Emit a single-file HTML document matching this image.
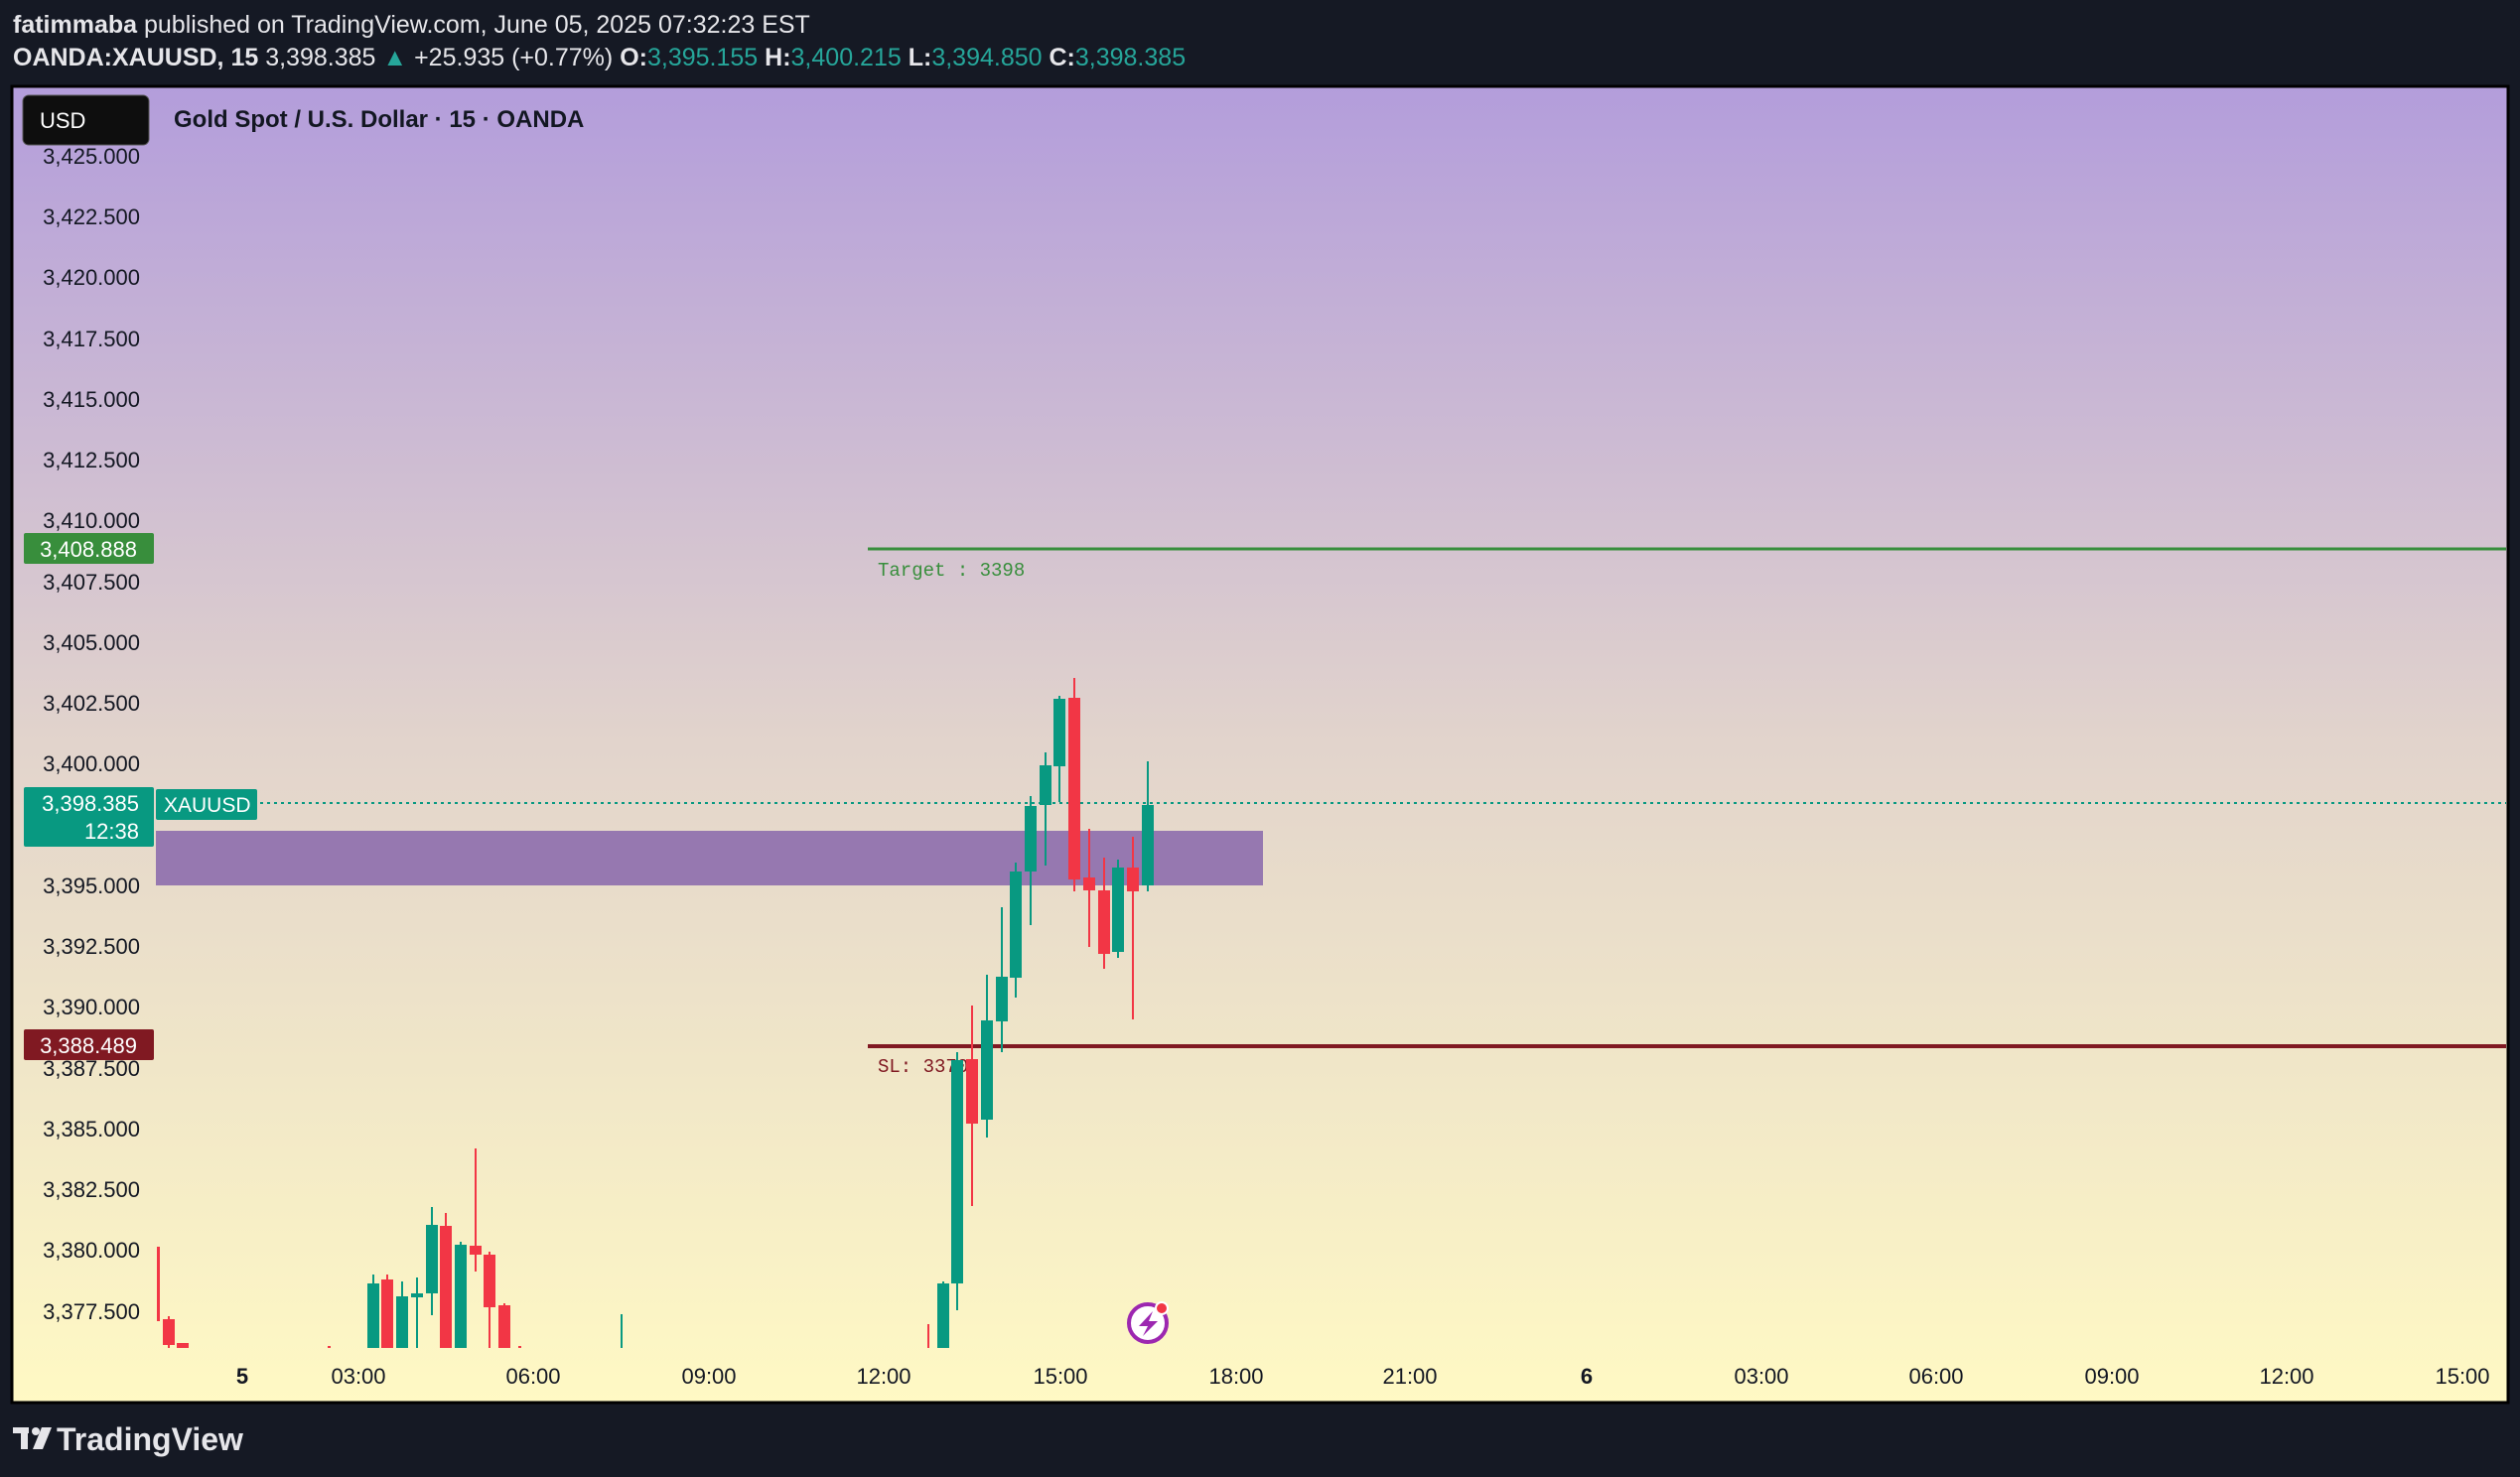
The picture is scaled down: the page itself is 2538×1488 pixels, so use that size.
<!DOCTYPE html>
<html><head><meta charset="utf-8"><style>
html,body{margin:0;padding:0;background:#151924;}
svg{display:block;font-family:"Liberation Sans",sans-serif;}
</style></head><body>
<svg width="2538" height="1488" viewBox="0 0 2538 1488" xmlns="http://www.w3.org/2000/svg">
<defs>
<linearGradient id="bg" x1="0" y1="0" x2="0" y2="1">
<stop offset="0" stop-color="#b39ddb"/>
<stop offset="0.5" stop-color="#e2d4cc"/>
<stop offset="1" stop-color="#fff9c4"/>
</linearGradient>
<clipPath id="plot"><rect x="14" y="88" width="2510" height="1270"/></clipPath>
</defs>
<rect width="2538" height="1488" fill="#151924"/>
<text x="13" y="33" font-size="25" fill="#e6e6ea"><tspan font-weight="bold">fatimmaba</tspan> published on TradingView.com, June 05, 2025 07:32:23 EST</text>
<text x="13" y="66" font-size="25" fill="#e6e6ea"><tspan font-weight="bold">OANDA:XAUUSD, 15</tspan> 3,398.385 <tspan fill="#26a69a">▲</tspan> +25.935 (+0.77%) <tspan font-weight="bold">O:</tspan><tspan fill="#26a69a">3,395.155</tspan> <tspan font-weight="bold">H:</tspan><tspan fill="#26a69a">3,400.215</tspan> <tspan font-weight="bold">L:</tspan><tspan fill="#26a69a">3,394.850</tspan> <tspan font-weight="bold">C:</tspan><tspan fill="#26a69a">3,398.385</tspan></text>
<rect x="12" y="87" width="2514" height="1326" fill="url(#bg)" stroke="#000" stroke-width="3"/>
<g font-size="22" fill="#131722" text-anchor="end">
<text x="141" y="165">3,425.000</text><text x="141" y="226">3,422.500</text><text x="141" y="287">3,420.000</text><text x="141" y="349">3,417.500</text><text x="141" y="410">3,415.000</text><text x="141" y="471">3,412.500</text><text x="141" y="532">3,410.000</text><text x="141" y="594">3,407.500</text><text x="141" y="655">3,405.000</text><text x="141" y="716">3,402.500</text><text x="141" y="777">3,400.000</text><text x="141" y="839">3,397.500</text><text x="141" y="900">3,395.000</text><text x="141" y="961">3,392.500</text><text x="141" y="1022">3,390.000</text><text x="141" y="1084">3,387.500</text><text x="141" y="1145">3,385.000</text><text x="141" y="1206">3,382.500</text><text x="141" y="1267">3,380.000</text><text x="141" y="1329">3,377.500</text>
</g>
<rect x="23" y="96" width="127" height="50" rx="6" fill="#0e0e0e" stroke="#555" stroke-width="1"/>
<text x="40" y="129" font-size="22" fill="#fff">USD</text>
<text x="175" y="128" font-size="24" font-weight="bold" fill="#131722">Gold Spot / U.S. Dollar · 15 · OANDA</text>
<g clip-path="url(#plot)">
<rect x="157" y="837" width="1115" height="55" fill="#9678b0"/>
<line x1="157" y1="809" x2="2525" y2="809" stroke="#089981" stroke-width="2" stroke-dasharray="3,4"/>
<line x1="874" y1="553" x2="2525" y2="553" stroke="#388e3c" stroke-width="3"/>
<text x="884" y="580" font-size="19" fill="#388e3c" font-family="Liberation Mono, monospace">Target : 3398</text>
<line x1="874" y1="1054" x2="2525" y2="1054" stroke="#801922" stroke-width="4"/>
<text x="884" y="1080" font-size="19" fill="#801922" font-family="Liberation Mono, monospace">SL: 3370</text>
<g fill="#f23645">
<rect x="158" y="1256" width="3" height="75"/>
<rect x="169" y="1326" width="2" height="32"/><rect x="164" y="1329" width="12" height="26"/>
<rect x="178" y="1353" width="12" height="5"/><rect x="330" y="1356" width="3" height="2"/>
<rect x="389" y="1284" width="2" height="74"/><rect x="384" y="1289" width="12" height="69"/>
<rect x="448" y="1222" width="2" height="136"/><rect x="443" y="1235" width="12" height="123"/>
<rect x="478" y="1157" width="2" height="124"/><rect x="473" y="1255" width="12" height="9"/>
<rect x="492" y="1261" width="2" height="97"/><rect x="487" y="1264" width="12" height="53"/>
<rect x="507" y="1313" width="2" height="45"/><rect x="502" y="1315" width="12" height="43"/>
<rect x="522" y="1356" width="3" height="2"/>
<rect x="934" y="1334" width="2" height="24"/>
<rect x="978" y="1013" width="2" height="202"/><rect x="973" y="1067" width="12" height="65"/>
<rect x="1081" y="683" width="2" height="215"/><rect x="1076" y="703" width="12" height="183"/>
<rect x="1096" y="835" width="2" height="119"/><rect x="1091" y="884" width="12" height="13"/>
<rect x="1111" y="864" width="2" height="112"/><rect x="1106" y="897" width="12" height="64"/>
<rect x="1140" y="843" width="2" height="184"/><rect x="1135" y="874" width="12" height="24"/>
</g>
<g fill="#089981">
<rect x="375" y="1284" width="2" height="74"/><rect x="370" y="1293" width="12" height="65"/>
<rect x="404" y="1291" width="2" height="67"/><rect x="399" y="1306" width="12" height="52"/>
<rect x="419" y="1287" width="2" height="71"/><rect x="414" y="1303" width="12" height="4"/>
<rect x="434" y="1216" width="2" height="109"/><rect x="429" y="1234" width="12" height="69"/>
<rect x="463" y="1251" width="2" height="107"/><rect x="458" y="1254" width="12" height="104"/>
<rect x="625" y="1324" width="2" height="34"/>
<rect x="949" y="1291" width="2" height="67"/><rect x="944" y="1293" width="12" height="65"/>
<rect x="963" y="1060" width="2" height="260"/><rect x="958" y="1068" width="12" height="225"/>
<rect x="993" y="982" width="2" height="164"/><rect x="988" y="1028" width="12" height="100"/>
<rect x="1008" y="914" width="2" height="146"/><rect x="1003" y="984" width="12" height="45"/>
<rect x="1022" y="869" width="2" height="136"/><rect x="1017" y="878" width="12" height="107"/>
<rect x="1037" y="802" width="2" height="130"/><rect x="1032" y="812" width="12" height="66"/>
<rect x="1052" y="758" width="2" height="114"/><rect x="1047" y="771" width="12" height="40"/>
<rect x="1066" y="701" width="2" height="107"/><rect x="1061" y="704" width="12" height="68"/>
<rect x="1125" y="866" width="2" height="99"/><rect x="1120" y="874" width="12" height="85"/>
<rect x="1155" y="767" width="2" height="131"/><rect x="1150" y="811" width="12" height="81"/>
</g>
</g>
<circle cx="1156" cy="1333" r="19" fill="#fff" stroke="#9c27b0" stroke-width="4"/>
<path d="M1161 1321 L1147 1336 L1156 1336 L1151 1346 L1166 1331 L1157 1331 Z" fill="#9c27b0"/>
<circle cx="1170" cy="1318" r="6" fill="#f23645" stroke="#fff" stroke-width="2"/>
<rect x="24" y="537" width="131" height="31" rx="2" fill="#388e3c"/>
<text x="89" y="561" font-size="22" fill="#fff" text-anchor="middle">3,408.888</text>
<rect x="24" y="1037" width="131" height="31" rx="2" fill="#801922"/>
<text x="89" y="1061" font-size="22" fill="#fff" text-anchor="middle">3,388.489</text>
<rect x="24" y="793" width="131" height="60" rx="2" fill="#089981"/>
<text x="140" y="817" font-size="22" fill="#fff" text-anchor="end">3,398.385</text>
<text x="140" y="845" font-size="22" fill="#fff" text-anchor="end">12:38</text>
<rect x="157" y="795" width="102" height="31" rx="2" fill="#089981"/>
<text x="165" y="818" font-size="21" fill="#fff">XAUUSD</text>
<g font-size="22" fill="#131722" text-anchor="middle">
<text x="244" y="1394" font-weight="bold">5</text><text x="361" y="1394">03:00</text><text x="537" y="1394">06:00</text><text x="714" y="1394">09:00</text><text x="890" y="1394">12:00</text><text x="1068" y="1394">15:00</text><text x="1245" y="1394">18:00</text><text x="1420" y="1394">21:00</text><text x="1598" y="1394" font-weight="bold">6</text><text x="1774" y="1394">03:00</text><text x="1950" y="1394">06:00</text><text x="2127" y="1394">09:00</text><text x="2303" y="1394">12:00</text><text x="2480" y="1394">15:00</text>
</g>
<g fill="#e6e6ea">
<rect x="13" y="1438" width="16" height="6"/><rect x="21" y="1438" width="7" height="22"/>
<circle cx="36" cy="1442" r="4"/><path d="M42 1438 L52 1438 L43 1460 L33 1460 Z"/>
</g>
<text x="57" y="1461" font-size="32" font-weight="bold" fill="#e6e6ea">TradingView</text>
</svg>
</body></html>
